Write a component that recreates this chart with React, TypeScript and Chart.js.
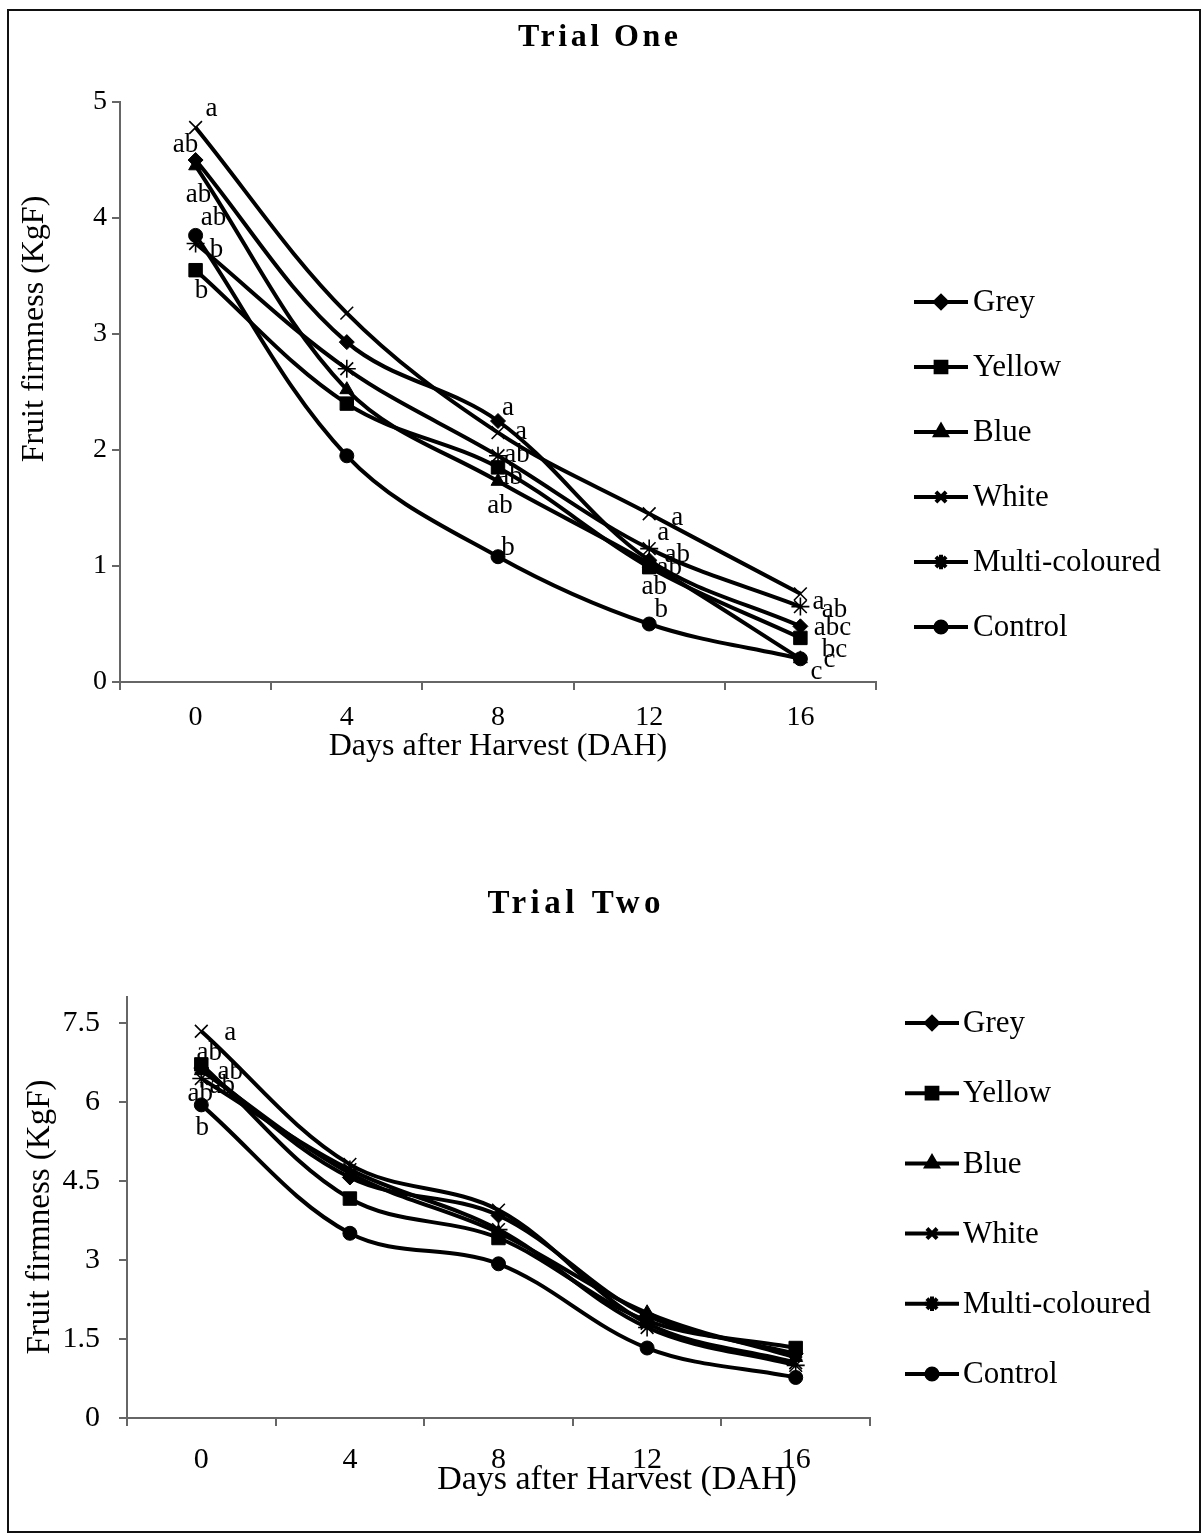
import React, { useEffect, useRef } from "react";
import { Chart, registerables } from "chart.js";
import { drawPoint } from "chart.js/helpers";

Chart.register(...registerables);

// ---------- data ----------
const days = ["0", "4", "8", "12", "16"];
const seriesNames = ["Grey", "Yellow", "Blue", "White", "Multi-coloured", "Control"];
const pointStyles = ["rectRot", "rect", "triangle", "crossRot", "star", "circle"];

// Trial One
const t1Grey = [4.5, 2.93, 2.25, 1.05, 0.48];
const t1Yellow = [3.55, 2.4, 1.85, 0.99, 0.38];
const t1Blue = [4.45, 2.52, 1.73, 1.02, 0.2];
const t1White = [4.78, 3.18, 2.15, 1.45, 0.76];
const t1Multi = [3.78, 2.7, 1.95, 1.15, 0.65];
const t1Control = [3.85, 1.95, 1.08, 0.5, 0.2];

const t1GreyLetters = ["ab", "", "a", "ab", "abc"];
const t1YellowLetters = ["b", "", "ab", "ab", "bc"];
const t1BlueLetters = ["ab", "", "ab", "ab", "c"];
const t1WhiteLetters = ["a", "", "a", "a", "a"];
const t1MultiLetters = ["b", "", "ab", "a", "ab"];
const t1ControlLetters = ["ab", "", "b", "b", "c"];

const t1YTicks = [0, 1, 2, 3, 4, 5];

// Trial Two
const t2Grey = [6.65, 4.57, 3.85, 1.95, 1.22];
const t2Yellow = [6.72, 4.17, 3.42, 1.85, 1.33];
const t2Blue = [6.6, 4.65, 3.52, 2.0, 1.15];
const t2White = [7.35, 4.82, 3.95, 1.8, 1.05];
const t2Multi = [6.45, 4.72, 3.58, 1.72, 1.0];
const t2Control = [5.95, 3.51, 2.93, 1.33, 0.77];

const t2GreyLetters = ["ab", "", "", "", ""];
const t2YellowLetters = ["ab", "", "", "", ""];
const t2BlueLetters = ["ab", "", "", "", ""];
const t2WhiteLetters = ["a", "", "", "", ""];
const t2MultiLetters = ["ab", "", "", "", ""];
const t2ControlLetters = ["b", "", "", "", ""];

const t2YTicks = [0, 1.5, 3, 4.5, 6, 7.5];

// ---------- styling / placement (not data) ----------
const FONT = '"Liberation Serif", "Times New Roman", Times, serif';
const AXIS = "#666666";
const pointRadii = [7.5, 9.5, 8, 9, 9, 7];
const pointBorders = [1, 1, 1, 1.6, 1.6, 1];

const t1LetterOffsets = [
  [[-10, -15], null, [10, -13], [28, -5], [32, 2]],
  [[6, 21], null, [12, 10], [5, 20], [34, 12]],
  [[3, 29], null, [2, 25], [20, 4], [29, 1]],
  [[16, -19], null, [23, -1], [28, 4], [18, 8]],
  [[21, 6], null, [19, -1], [14, -16], [34, 3]],
  [[18, -17], null, [10, -9], [12, -14], [16, 13]],
];
const t2LetterOffsets = [
  [[29, 4], null, null, null, null],
  [[8, -11], null, null, null, null],
  [[21, 15], null, null, null, null],
  [[29, 2], null, null, null, null],
  [[-1, 15], null, null, null, null],
  [[1, 23], null, null, null, null],
];

type Layout = {
  width: number;
  height: number;
  top: number;
  left: number;
  right: number;
  bottom: number;
  yMax: number;
  yTicks: number[];
  tickFont: number;
  yTickPad: number;
  xTickPad: number;
  title: { text: string; x: number; y: number; size: number; spacing: number };
  xTitle: { text: string; x: number; y: number; size: number };
  yTitle: { text: string; x: number; y: number; size: number };
  legend: { x0: number; x1: number; textX: number; y0: number; step: number; size: number };
  letters: string[][];
  offsets: (number[] | null)[][];
  series: number[][];
};

function buildChart(canvas: HTMLCanvasElement, L: Layout) {
  const textPlugin = {
    id: "customTexts",
    afterDraw(chart: any) {
      const ctx: CanvasRenderingContext2D = chart.ctx;
      ctx.save();
      ctx.fillStyle = "#000";
      ctx.textAlign = "center";
      ctx.textBaseline = "middle";
      // main title
      ctx.font = `bold ${L.title.size}px ${FONT}`;
      (ctx as any).letterSpacing = `${L.title.spacing}px`;
      ctx.fillText(L.title.text, L.title.x + L.title.spacing / 2, L.title.y);
      (ctx as any).letterSpacing = "0px";
      // x title
      ctx.font = `${L.xTitle.size}px ${FONT}`;
      ctx.fillText(L.xTitle.text, L.xTitle.x, L.xTitle.y);
      // y title
      ctx.save();
      ctx.translate(L.yTitle.x, L.yTitle.y);
      ctx.rotate(-Math.PI / 2);
      ctx.font = `${L.yTitle.size}px ${FONT}`;
      ctx.fillText(L.yTitle.text, 0, 0);
      ctx.restore();

      // legend
      const lg = L.legend;
      chart.data.datasets.forEach((ds: any, i: number) => {
        const y = lg.y0 + i * lg.step;
        ctx.strokeStyle = "#000";
        ctx.lineWidth = 4;
        ctx.beginPath();
        ctx.moveTo(lg.x0, y);
        ctx.lineTo(lg.x1, y);
        ctx.stroke();
        ctx.fillStyle = "#000";
        drawPoint(
          ctx,
          {
            pointStyle: ds.pointStyle,
            radius: ds.pointRadius * 0.8,
            borderWidth: ds.pointBorderWidth,
            rotation: 0,
          } as any,
          (lg.x0 + lg.x1) / 2,
          y
        );
        ctx.fillStyle = "#000";
        ctx.textAlign = "left";
        ctx.textBaseline = "middle";
        ctx.font = `${lg.size}px ${FONT}`;
        ctx.fillText(ds.label, lg.textX, y + 1);
      });
      ctx.restore();
    },
    afterDatasetsDraw(chart: any) {
      const ctx: CanvasRenderingContext2D = chart.ctx;
      ctx.save();
      ctx.fillStyle = "#000";
      ctx.textAlign = "center";
      ctx.textBaseline = "middle";
      ctx.font = `27px ${FONT}`;
      L.letters.forEach((row, i) => {
        const meta = chart.getDatasetMeta(i);
        row.forEach((txt, j) => {
          const off = L.offsets[i][j];
          if (!txt || !off) return;
          const el = meta.data[j];
          ctx.fillText(txt, el.x + off[0], el.y + off[1]);
        });
      });
      ctx.restore();
    },
  };

  const datasets = L.series.map((vals, i) => ({
    label: seriesNames[i],
    data: vals,
    borderColor: "#000",
    backgroundColor: "#000",
    borderWidth: 4,
    pointStyle: pointStyles[i],
    pointRadius: pointRadii[i],
    pointBorderWidth: pointBorders[i],
    pointBackgroundColor: "#000",
    pointBorderColor: "#000",
    tension: 0.35,
    fill: false,
  }));

  const xAxisHeight = 90;
  return new Chart(canvas, {
    type: "line",
    data: { labels: days, datasets },
    options: {
      responsive: false,
      animation: false,
      devicePixelRatio: 1,
      layout: {
        padding: {
          left: 0,
          top: L.top,
          right: L.width - L.right,
          bottom: L.height - L.bottom - xAxisHeight,
        },
      },
      plugins: {
        legend: { display: false },
        tooltip: { enabled: false },
        title: { display: false },
      },
      elements: { line: { capBezierPoints: true } },
      scales: {
        x: {
          type: "category",
          offset: true,
          grid: {
            offset: true,
            drawOnChartArea: false,
            drawTicks: true,
            tickLength: 8,
            color: AXIS,
            lineWidth: 2,
          },
          border: { display: true, color: AXIS, width: 2 },
          ticks: {
            color: "#000",
            font: { family: FONT, size: L.tickFont },
            padding: L.xTickPad,
            maxRotation: 0,
          },
          afterFit(scale: any) {
            scale.height = xAxisHeight;
          },
        },
        y: {
          type: "linear",
          min: 0,
          max: L.yMax,
          grid: {
            drawOnChartArea: false,
            drawTicks: true,
            tickLength: 8,
            color: AXIS,
            lineWidth: 2,
          },
          border: { display: true, color: AXIS, width: 2 },
          ticks: {
            color: "#000",
            font: { family: FONT, size: L.tickFont },
            padding: L.yTickPad,
            callback: (v: any) => String(v),
          },
          afterBuildTicks(scale: any) {
            scale.ticks = L.yTicks.map((v) => ({ value: v }));
          },
          afterFit(scale: any) {
            scale.width = L.left;
          },
        },
      },
    },
    plugins: [textPlugin],
  } as any);
}

const layoutOne: Layout = {
  width: 1204,
  height: 790,
  top: 102,
  left: 120,
  right: 876,
  bottom: 682,
  yMax: 5,
  yTicks: t1YTicks,
  tickFont: 28,
  yTickPad: 5,
  xTickPad: 11,
  title: { text: "Trial One", x: 598, y: 38, size: 32, spacing: 3.5 },
  xTitle: { text: "Days after Harvest (DAH)", x: 498, y: 747, size: 32 },
  yTitle: { text: "Fruit firmness (KgF)", x: 35, y: 329, size: 32 },
  legend: { x0: 914, x1: 968, textX: 973, y0: 302, step: 65, size: 31 },
  letters: [t1GreyLetters, t1YellowLetters, t1BlueLetters, t1WhiteLetters, t1MultiLetters, t1ControlLetters],
  offsets: t1LetterOffsets,
  series: [t1Grey, t1Yellow, t1Blue, t1White, t1Multi, t1Control],
};

const TOP2 = 790;
const layoutTwo: Layout = {
  width: 1204,
  height: 745,
  top: 997 - TOP2,
  left: 127,
  right: 870,
  bottom: 1418 - TOP2,
  yMax: 8,
  yTicks: t2YTicks,
  tickFont: 30,
  yTickPad: 19,
  xTickPad: 16,
  title: { text: "Trial Two", x: 574, y: 904 - TOP2, size: 33, spacing: 4.5 },
  xTitle: { text: "Days after Harvest (DAH)", x: 617, y: 1480 - TOP2, size: 34 },
  yTitle: { text: "Fruit firmness (KgF)", x: 40, y: 1217 - TOP2, size: 33 },
  legend: { x0: 905, x1: 959, textX: 963, y0: 1023 - TOP2, step: 70.2, size: 31 },
  letters: [t2GreyLetters, t2YellowLetters, t2BlueLetters, t2WhiteLetters, t2MultiLetters, t2ControlLetters],
  offsets: t2LetterOffsets,
  series: [t2Grey, t2Yellow, t2Blue, t2White, t2Multi, t2Control],
};

export default function App() {
  const ref1 = useRef<HTMLCanvasElement>(null);
  const ref2 = useRef<HTMLCanvasElement>(null);

  useEffect(() => {
    const c1 = buildChart(ref1.current as HTMLCanvasElement, layoutOne);
    const c2 = buildChart(ref2.current as HTMLCanvasElement, layoutTwo);
    return () => {
      c1.destroy();
      c2.destroy();
    };
  }, []);

  return (
    <div
      style={{
        position: "absolute",
        left: 0,
        top: 0,
        width: 1204,
        height: 1535,
        background: "#fff",
        overflow: "hidden",
      }}
    >
      <canvas
        ref={ref1}
        width={1204}
        height={790}
        style={{ position: "absolute", left: 0, top: 0, width: 1204, height: 790 }}
      />
      <canvas
        ref={ref2}
        width={1204}
        height={745}
        style={{ position: "absolute", left: 0, top: TOP2, width: 1204, height: 745 }}
      />
      <div
        style={{
          position: "absolute",
          left: 7,
          top: 9,
          width: 1194,
          height: 1524,
          boxSizing: "border-box",
          border: "2px solid #111",
          pointerEvents: "none",
        }}
      />
    </div>
  );
}
